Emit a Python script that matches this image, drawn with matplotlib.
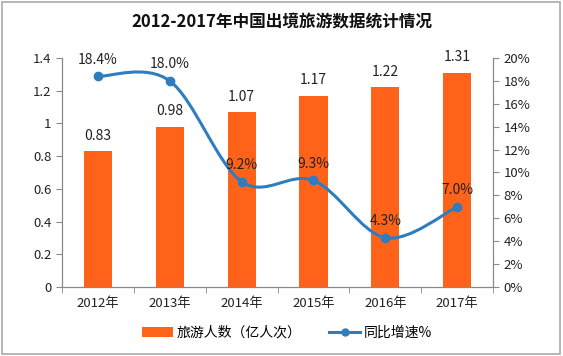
import matplotlib
matplotlib.use("Agg")
import matplotlib.pyplot as plt
from matplotlib.path import Path
from matplotlib.patches import PathPatch, Rectangle
from matplotlib.lines import Line2D
from matplotlib.patches import Patch
import numpy as np

plt.rcParams['font.family'] = ['Noto Sans CJK SC', 'DejaVu Sans']

years = ['2012年', '2013年', '2014年', '2015年', '2016年', '2017年']
travelers = [0.83, 0.98, 1.07, 1.17, 1.22, 1.31]
growth = [18.4, 18.0, 9.2, 9.3, 4.3, 7.0]
left_ticks = [0, 0.2, 0.4, 0.6, 0.8, 1, 1.2, 1.4]
left_labels = ['0', '0.2', '0.4', '0.6', '0.8', '1', '1.2', '1.4']
right_ticks = [0, 2, 4, 6, 8, 10, 12, 14, 16, 18, 20]

bar_color = '#FF6319'
line_color = '#2E7DBF'
axis_color = '#888888'
text_color = '#222222'

fig = plt.figure(figsize=(5.63, 3.56), dpi=100)
ax = fig.add_axes([0.110, 0.194, 0.766, 0.643])
ax2 = ax.twinx()

x = np.arange(len(years))
ax.bar(x, travelers, width=0.39, color=bar_color, zorder=2)
for xi, v in zip(x, travelers):
    ax.annotate(f'{v:.2f}', (xi, v), xytext=(0, 6), textcoords='offset points',
                ha='center', va='bottom', fontsize=10, color=text_color)

ax.set_xlim(-0.5, len(years) - 0.5)
ax.set_ylim(0, 1.4)
ax.set_yticks(left_ticks)
ax.set_yticklabels(left_labels)
ax.set_xticks(x)
ax.set_xticklabels(years)
ax.set_xticks(np.arange(-0.5, len(years)), minor=True)
ax.tick_params(axis='x', which='major', length=0, pad=7, labelsize=9.5, colors=text_color)
ax.tick_params(axis='x', which='minor', length=4, color=axis_color, direction='out')
ax.tick_params(axis='y', length=4, color=axis_color, labelsize=9.5, labelcolor=text_color, direction='out')

ax2.set_ylim(0, 20)
ax2.set_yticks(right_ticks)
ax2.set_yticklabels([f'{t}%' for t in right_ticks])
ax2.tick_params(axis='y', length=4, color=axis_color, labelsize=9.5, labelcolor=text_color, direction='out')

for a in (ax, ax2):
    a.spines['top'].set_visible(False)
    for s in ('left', 'right', 'bottom'):
        a.spines[s].set_color(axis_color)

# smoothed line (Catmull-Rom style bezier through data points)
pts = np.column_stack([x, growth]).astype(float)
n = len(pts)
verts = [tuple(pts[0])]
codes = [Path.MOVETO]
for i in range(n - 1):
    p0 = pts[i - 1] if i > 0 else pts[i]
    p1 = pts[i]
    p2 = pts[i + 1]
    p3 = pts[i + 2] if i + 2 < n else pts[i + 1]
    c1 = p1 + (p2 - p0) / 6.0
    c2 = p2 - (p3 - p1) / 6.0
    verts += [tuple(c1), tuple(c2), tuple(p2)]
    codes += [Path.CURVE4] * 3
ax2.add_patch(PathPatch(Path(verts, codes), fill=False, edgecolor=line_color, lw=2.2, zorder=3))
ax2.plot(x, growth, linestyle='none', marker='o', markersize=6, color=line_color, zorder=4)
for xi, v in zip(x, growth):
    ax2.annotate(f'{v:.1f}%', (xi, v), xytext=(0, 7), textcoords='offset points',
                 ha='center', va='bottom', fontsize=10, color=text_color)

fig.text(0.5, 0.938, '2012-2017年中国出境旅游数据统计情况', ha='center', va='center',
         fontsize=12, fontweight='bold', color='#111111')

handles = [Patch(facecolor=bar_color, edgecolor='none'),
           Line2D([0], [0], color=line_color, lw=2.2, marker='o', markersize=5)]
fig.legend(handles, ['旅游人数（亿人次）', '同比增速%'], loc='center', bbox_to_anchor=(0.51, 0.065),
           ncol=2, frameon=False, fontsize=10, handlelength=2.2, columnspacing=2.0,
           handletextpad=0.3)

fig.add_artist(Rectangle((0.003, 0.006), 0.992, 0.988, transform=fig.transFigure,
                         fill=False, edgecolor='#AAAAAA', lw=1.2))

fig.savefig('out.png', dpi=100)
